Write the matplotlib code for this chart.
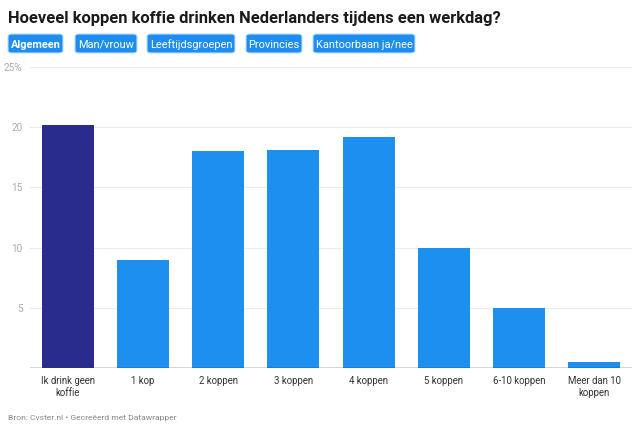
import matplotlib.pyplot as plt
from matplotlib.patches import FancyBboxPatch

plt.rcParams['font.family'] = ['Roboto', 'DejaVu Sans']

categories = ['Ik drink geen\nkoffie', '1 kop', '2 koppen', '3 koppen', '4 koppen',
              '5 koppen', '6-10 koppen', 'Meer dan 10\nkoppen']
values = [20.2, 9.0, 18.0, 18.1, 19.2, 10.0, 5.0, 0.5]
highlight = [True, False, False, False, False, False, False, False]
yticks = [0, 5, 10, 15, 20, 25]
ytick_labels = ['', '5', '10', '15', '20', '25%']
buttons = ['Algemeen', 'Man/vrouw', 'Leeftijdsgroepen', 'Provincies', 'Kantoorbaan ja/nee']

W, H = 640, 431
fig = plt.figure(figsize=(6.4, 4.31), dpi=100)
ax = fig.add_axes([30 / W, 1 - 369 / H, 602 / W, 301 / H])

colors = ['#292c8d' if h else '#1c8fef' for h in highlight]
ax.bar(range(len(values)), values, width=0.69, color=colors, zorder=3)
ax.set_xlim(-0.5, len(values) - 0.5)
ax.set_ylim(0, 25)

for y in yticks[1:]:
    ax.axhline(y, color='#ececec', lw=0.8, zorder=1)
ax.axhline(0, color='#333333', lw=1.0, zorder=4)
for s in ax.spines.values():
    s.set_visible(False)

# y labels sit left of the gridlines, right-aligned
ax.set_yticks([])
for y, lab in zip(yticks, ytick_labels):
    ax.text(-0.6, y, lab, ha='right', va='center', fontsize=7.2, color='#aaaaaa')

ax.set_xticks(range(len(categories)))
ax.set_xticklabels(categories, fontsize=6.9, color='#333333', linespacing=1.25)
ax.tick_params(axis='x', length=0, pad=5)

fig.text(8 / W, 1 - 18 / H, 'Hoeveel koppen koffie drinken Nederlanders tijdens een werkdag?',
         fontsize=11.9, fontweight='bold', color='#1a1a1a', va='center', ha='left')

btn_x = [8, 75, 147, 246, 313]
btn_w = [55, 62, 88, 56, 102]
for i, (label, bx, bw) in enumerate(zip(buttons, btn_x, btn_w)):
    patch = FancyBboxPatch((bx / W, 1 - 54 / H), bw / W, 19 / H,
                           boxstyle='round,pad=0,rounding_size=0.006',
                           transform=fig.transFigure, facecolor='#1d8ef0',
                           edgecolor='#bcdcfb', lw=0.8)
    fig.add_artist(patch)
    fig.text((bx + bw / 2) / W, 1 - 44.5 / H, label, ha='center', va='center',
             fontsize=7.9, color='white', fontweight='bold' if i == 0 else 'normal')

fig.text(8 / W, 1 - 418 / H, 'Bron: Cvster.nl • Gecreëerd met Datawrapper',
         fontsize=6.1, color='#888888', va='center', ha='left')

fig.savefig('out.png', dpi=100, facecolor='white')
